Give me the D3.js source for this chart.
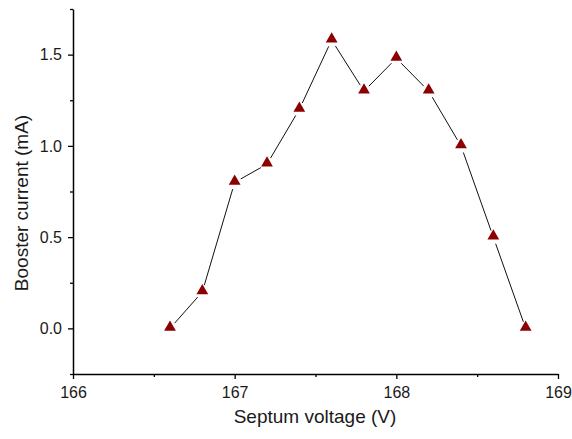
<!DOCTYPE html>
<html>
<head>
<meta charset="utf-8">
<script src="https://cdn.jsdelivr.net/npm/d3@7.9.0/dist/d3.min.js"></script>
<style>
  body { margin: 0; background: #fff; }
  svg { font-family: "Liberation Sans", Arial, sans-serif; }
</style>
</head>
<body>
<svg width="572" height="439"></svg>
<script>
// data
const voltage = [166.6, 166.8, 167.0, 167.2, 167.4, 167.6, 167.8, 168.0, 168.2, 168.4, 168.6, 168.8];
const current = [0.0, 0.2, 0.8, 0.9, 1.2, 1.58, 1.3, 1.48, 1.3, 1.0, 0.5, 0.0];
const xTicks = [166, 167, 168, 169];
const yTicks = [0.0, 0.5, 1.0, 1.5];

const svg = d3.select('svg');
const mLeft = 73, mRight = 558, mTop = 9, mBottom = 374;

let x = d3.scaleLinear().domain([166, 169]).range([mLeft, mRight]);
let y = d3.scaleLinear().domain([-0.25, 1.75]).range([mBottom, mTop]);

// axes
svg.append('g')
    .attr('transform', `translate(0,${mBottom})`)
    .call(d3.axisBottom(x).tickValues(xTicks).tickFormat(d3.format('d')).tickSize(5).tickSizeOuter(0).tickPadding(8));
svg.append('g')
    .attr('transform', `translate(0,${mBottom})`)
    .call(d3.axisBottom(x).tickValues([166.5, 167.5, 168.5]).tickFormat('').tickSize(3).tickSizeOuter(0))
    .select('.domain').remove();

svg.append('g')
    .attr('transform', `translate(${mLeft},0)`)
    .call(d3.axisLeft(y).tickValues(yTicks).tickFormat(d3.format('.1f')).tickSize(5).tickSizeOuter(0).tickPadding(6));
svg.append('g')
    .attr('transform', `translate(${mLeft},0)`)
    .call(d3.axisLeft(y).tickValues([-0.25, 0.25, 0.75, 1.25, 1.75]).tickFormat('').tickSize(3).tickSizeOuter(0))
    .select('.domain').remove();

svg.selectAll('.domain').attr('stroke', '#000').attr('stroke-width', 1.5);
svg.selectAll('.tick line').attr('stroke', '#000').attr('stroke-width', 1.3);
svg.selectAll('.tick text').attr('font-size', 16).attr('fill', '#1a1a1a')
    .attr('font-family', '"Liberation Sans", Arial, sans-serif');

// axis titles
svg.append('text')
    .attr('x', 315)
    .attr('y', 423)
    .attr('text-anchor', 'middle')
    .attr('font-size', 19)
    .attr('fill', '#1a1a1a')
    .text('Septum voltage (V)');
svg.append('text')
    .attr('transform', 'translate(28,203) rotate(-90)')
    .attr('text-anchor', 'middle')
    .attr('font-size', 19)
    .attr('fill', '#1a1a1a')
    .text('Booster current (mA)');

// connecting line, with small gaps at the markers
let pts = voltage.map((v, i) => [x(v), y(current[i])]);
let gap = 7;
for (let i = 0; i < pts.length - 1; i++) {
    let [x1, y1] = pts[i], [x2, y2] = pts[i + 1];
    let len = Math.hypot(x2 - x1, y2 - y1);
    let ux = (x2 - x1) / len, uy = (y2 - y1) / len;
    svg.append('line')
        .attr('x1', x1 + ux * gap).attr('y1', y1 + uy * gap)
        .attr('x2', x2 - ux * gap).attr('y2', y2 - uy * gap)
        .attr('stroke', '#111')
        .attr('stroke-width', 1);
}

// markers
let tri = d3.symbol().type(d3.symbolTriangle).size(60);
svg.selectAll('path.marker')
    .data(pts)
    .join('path')
    .attr('class', 'marker')
    .attr('d', tri)
    .attr('transform', (d) => `translate(${d[0]},${d[1] - 1})`)
    .attr('fill', '#8b0000');
</script>
</body>
</html>
